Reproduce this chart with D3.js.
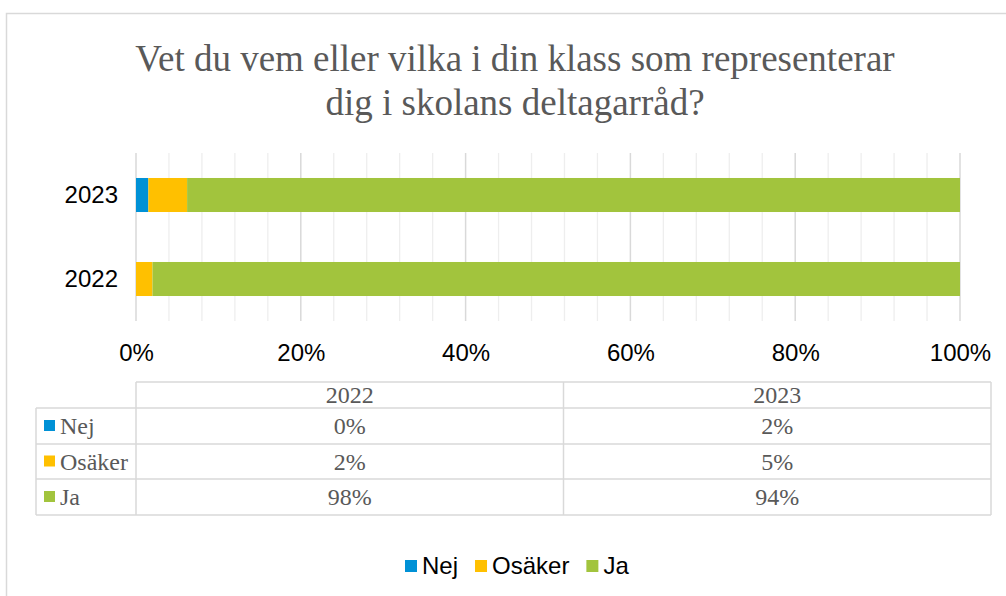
<!DOCTYPE html>
<html>
<head>
<meta charset="utf-8">
<script src="https://cdn.jsdelivr.net/npm/d3@7"></script>
<style>
  body { margin: 0; background: #fff; }
  svg { display: block; }
</style>
</head>
<body>
<svg width="1006" height="596"></svg>
<script>
// Data (percent of respondents)
const years = ["2022", "2023"];
const series = ["Nej", "Osäker", "Ja"];
const nejValues = [0, 1.5];
const osakerValues = [2.0, 4.7];
const jaValues = [98.0, 93.8];
const tickValues = [0, 20, 40, 60, 80, 100];
const seriesColors = ["#0091D6", "#FFC000", "#A2C43D"];

const svg = d3.select("svg");
const serif = "'Liberation Serif', 'Times New Roman', serif";
const sans = "'Liberation Sans', Arial, sans-serif";

//Outer chart border
svg.append("rect")
    .attr("x", 6.5)
    .attr("y", 13.5)
    .attr("width", 1100)
    .attr("height", 700)
    .attr("fill", "none")
    .attr("stroke", "#d9d9d9")
    .attr("stroke-width", 1.5);

//Title
const title = svg.append("text")
    .attr("text-anchor", "middle")
    .attr("font-family", serif)
    .attr("font-size", "37px")
    .attr("fill", "#595959");
title.append("tspan").attr("x", 515).attr("y", 71)
    .text("Vet du vem eller vilka i din klass som representerar");
title.append("tspan").attr("x", 515).attr("y", 115)
    .text("dig i skolans deltagarråd?");

//Build stacked rows
const valuesBySeries = [nejValues, osakerValues, jaValues];
const rows = years.map((year, i) => {
    const row = { year: year };
    series.forEach((s, j) => row[s] = valuesBySeries[j][i]);
    return row;
});
const stacked = d3.stack().keys(series)(rows);

//Scales
const plotLeft = 136, plotRight = 960, plotTop = 153, plotBottom = 321;
const x = d3.scaleLinear().domain([0, 100]).range([plotLeft, plotRight]);
const y = d3.scaleBand()
    .domain(["2023", "2022"])
    .range([plotTop, plotBottom])
    .paddingInner(0.595)
    .paddingOuter(0.2975);
const color = d3.scaleOrdinal().domain(series).range(seriesColors);

//Minor gridlines every 4%
svg.append("g")
    .selectAll("line")
    .data(d3.range(4, 100, 4).filter(v => v % 20 !== 0))
    .enter()
    .append("line")
    .attr("x1", d => x(d)).attr("x2", d => x(d))
    .attr("y1", plotTop).attr("y2", plotBottom)
    .attr("stroke", "#eeeeee")
    .attr("stroke-width", 1.3);

//Major gridlines
svg.append("g")
    .selectAll("line")
    .data(tickValues)
    .enter()
    .append("line")
    .attr("x1", d => x(d)).attr("x2", d => x(d))
    .attr("y1", plotTop).attr("y2", plotBottom)
    .attr("stroke", "#d9d9d9")
    .attr("stroke-width", 1.5);

//Bars
svg.append("g")
    .selectAll("g")
    .data(stacked)
    .enter()
    .append("g")
    .attr("fill", d => color(d.key))
    .selectAll("rect")
    .data(d => d)
    .enter()
    .append("rect")
    .attr("x", d => x(d[0]))
    .attr("y", d => y(d.data.year))
    .attr("width", d => x(d[1]) - x(d[0]))
    .attr("height", y.bandwidth());

//X axis labels
const xAxis = svg.append("g")
    .attr("transform", `translate(0, ${plotBottom + 40})`)
    .call(d3.axisBottom(x).tickValues(tickValues).tickSize(0).tickPadding(0)
        .tickFormat(d => d + "%"));
xAxis.select(".domain").remove();
xAxis.selectAll("text")
    .attr("dy", 0)
    .attr("font-family", sans)
    .attr("font-size", "24px")
    .attr("fill", "#000");

//Y axis labels
const yAxis = svg.append("g")
    .attr("transform", `translate(${plotLeft - 18}, 0)`)
    .call(d3.axisLeft(y).tickSize(0).tickPadding(0));
yAxis.select(".domain").remove();
yAxis.selectAll("text")
    .attr("dy", "0.35em")
    .attr("font-family", sans)
    .attr("font-size", "24px")
    .attr("fill", "#000");

//Data table
const tableLeft = 36, colLeft = 136, tableRight = 991;
const headerTop = 382;
const rowLines = [408, 444, 479, 515];
const colX = d3.scaleBand().domain(years).range([colLeft, tableRight]);
const table = svg.append("g");
const borderColor = "#d9d9d9";

//Horizontal lines
table.append("line")
    .attr("x1", colLeft).attr("x2", tableRight)
    .attr("y1", headerTop).attr("y2", headerTop)
    .attr("stroke", borderColor).attr("stroke-width", 1.5);
table.selectAll(".hline")
    .data(rowLines)
    .enter()
    .append("line")
    .attr("class", "hline")
    .attr("x1", tableLeft).attr("x2", tableRight)
    .attr("y1", d => d).attr("y2", d => d)
    .attr("stroke", borderColor).attr("stroke-width", 1.5);

//Vertical lines
table.append("line")
    .attr("x1", tableLeft).attr("x2", tableLeft)
    .attr("y1", rowLines[0]).attr("y2", rowLines[3])
    .attr("stroke", borderColor).attr("stroke-width", 1.5);
table.selectAll(".vline")
    .data([colLeft, colX("2023"), tableRight])
    .enter()
    .append("line")
    .attr("class", "vline")
    .attr("x1", d => d).attr("x2", d => d)
    .attr("y1", headerTop).attr("y2", rowLines[3])
    .attr("stroke", borderColor).attr("stroke-width", 1.5);

//Header text
table.selectAll(".head")
    .data(years)
    .enter()
    .append("text")
    .attr("class", "head")
    .attr("x", d => colX(d) + colX.bandwidth() / 2)
    .attr("y", (headerTop + rowLines[0]) / 2)
    .attr("dy", "0.35em")
    .attr("text-anchor", "middle")
    .attr("font-family", serif)
    .attr("font-size", "24px")
    .attr("fill", "#595959")
    .text(d => d);

//Row labels with colour keys
series.forEach((s, i) => {
    const cy = (rowLines[i] + rowLines[i + 1]) / 2;
    table.append("rect")
        .attr("x", 44)
        .attr("y", cy - 6)
        .attr("width", 11)
        .attr("height", 11)
        .attr("fill", color(s));
    table.append("text")
        .attr("x", 60)
        .attr("y", cy)
        .attr("dy", "0.35em")
        .attr("font-family", serif)
        .attr("font-size", "24px")
        .attr("fill", "#595959")
        .text(s);
    years.forEach((yr, j) => {
        table.append("text")
            .attr("x", colX(yr) + colX.bandwidth() / 2)
            .attr("y", cy)
            .attr("dy", "0.35em")
            .attr("text-anchor", "middle")
            .attr("font-family", serif)
            .attr("font-size", "24px")
            .attr("fill", "#595959")
            .text(Math.round(valuesBySeries[i][j]) + "%");
    });
});

//Legend
const legend = svg.append("g").attr("transform", "translate(0, 566)");
let lx = 405;
series.forEach(s => {
    const item = legend.append("g").attr("transform", `translate(${lx}, 0)`);
    item.append("rect")
        .attr("x", 0).attr("y", -6)
        .attr("width", 12).attr("height", 12)
        .attr("fill", color(s));
    const t = item.append("text")
        .attr("x", 17)
        .attr("dy", "0.35em")
        .attr("font-family", sans)
        .attr("font-size", "24px")
        .attr("fill", "#000")
        .text(s);
    lx += 17 + t.node().getComputedTextLength() + 17;
});
</script>
</body>
</html>
